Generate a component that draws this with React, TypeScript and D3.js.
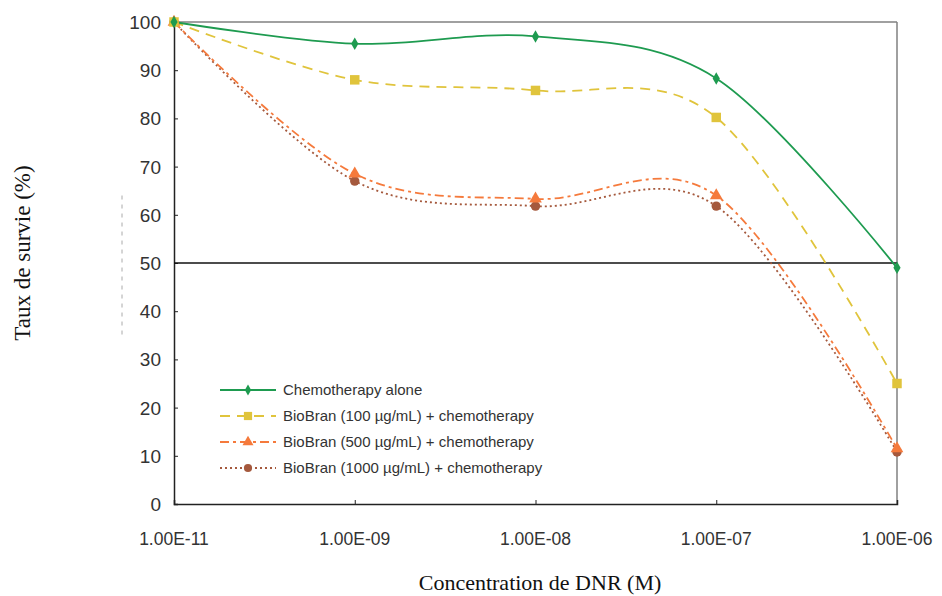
import { useRef, useEffect } from 'react';
import * as d3 from 'd3';

// categories (log-spaced concentrations, plotted evenly)
const concentrations = ['1.00E-11', '1.00E-09', '1.00E-08', '1.00E-07', '1.00E-06'];
const yTicks = [0, 10, 20, 30, 40, 50, 60, 70, 80, 90, 100];

const chemoAlone = [100, 95.5, 97, 88.3, 49];
const bb100 = [100, 88, 85.8, 80.2, 25];
const bb500 = [100, 68.5, 63.3, 64, 11.5];
const bb1000 = [100, 67, 61.8, 61.8, 10.8];

const seriesNames = [
  'Chemotherapy alone',
  'BioBran (100 µg/mL) + chemotherapy',
  'BioBran (500 µg/mL) + chemotherapy',
  'BioBran (1000 µg/mL) + chemotherapy',
];

const W = 942;
const H = 596;

const App = () => {
  const svgRef = useRef<SVGSVGElement | null>(null);

  useEffect(() => {
    const svg = d3.select(svgRef.current);
    svg.selectAll('*').remove();

    const margin = { top: 22, right: 45, bottom: 92, left: 174 };
    const x0 = margin.left;
    const x1 = W - margin.right;
    const y0 = H - margin.bottom;
    const y1 = margin.top;

    const x = d3.scalePoint<string>().domain(concentrations).range([x0, x1]);
    const y = d3.scaleLinear().domain([0, 100]).range([y0, y1]);

    const series = [
      { name: seriesNames[0], values: chemoAlone, color: '#1e9b50', dash: null, marker: d3.symbolDiamond, size: 45 },
      { name: seriesNames[1], values: bb100, color: '#e0c43c', dash: '10,7', marker: d3.symbolSquare, size: 90 },
      { name: seriesNames[2], values: bb500, color: '#f57a3c', dash: '9,4,3,4', marker: d3.symbolTriangle, size: 70 },
      { name: seriesNames[3], values: bb1000, color: '#a5593d', dash: '2,3', marker: d3.symbolCircle, size: 70 },
    ];

    // frame (top + right in gray)
    svg.append('line')
      .attr('x1', x0).attr('x2', x1).attr('y1', y1).attr('y2', y1)
      .attr('stroke', '#808080').attr('stroke-width', 1.5);
    svg.append('line')
      .attr('x1', x1).attr('x2', x1).attr('y1', y1).attr('y2', y0)
      .attr('stroke', '#808080').attr('stroke-width', 1.5);

    // y axis
    const yAxis = svg.append('g')
      .attr('transform', `translate(${x0},0)`)
      .call(d3.axisRight(y).tickValues(yTicks).tickSize(4).tickFormat(() => ''));
    yAxis.select('.domain').attr('stroke', '#222').attr('stroke-width', 1.5);
    yAxis.selectAll('.tick line').attr('stroke', '#222');

    svg.append('g')
      .selectAll('text')
      .data(yTicks)
      .enter()
      .append('text')
      .attr('x', x0 - 13)
      .attr('y', d => y(d) + 7)
      .attr('text-anchor', 'end')
      .attr('font-family', 'Liberation Sans, Arial, sans-serif')
      .attr('font-size', '19px')
      .attr('fill', '#333')
      .text(d => d);

    // x axis
    const xAxis = svg.append('g')
      .attr('transform', `translate(0,${y0})`)
      .call(d3.axisTop(x).tickSize(4).tickFormat(() => ''));
    xAxis.select('.domain').attr('stroke', '#222').attr('stroke-width', 1.5);
    xAxis.selectAll('.tick line').attr('stroke', '#222');

    svg.append('g')
      .selectAll('text')
      .data(concentrations)
      .enter()
      .append('text')
      .attr('x', d => x(d)!)
      .attr('y', y0 + 41)
      .attr('text-anchor', 'middle')
      .attr('font-family', 'Liberation Sans, Arial, sans-serif')
      .attr('font-size', '17.5px')
      .attr('fill', '#333')
      .text(d => d);

    // 50% reference line
    svg.append('line')
      .attr('x1', x0).attr('x2', x1).attr('y1', y(50)).attr('y2', y(50))
      .attr('stroke', '#111').attr('stroke-width', 1.5);

    // faint scan artifact near the y axis
    svg.append('line')
      .attr('x1', 122).attr('x2', 122).attr('y1', y(64)).attr('y2', y(35))
      .attr('stroke', '#aaa').attr('stroke-width', 1).attr('stroke-dasharray', '4,5');

    const line = d3.line<number>()
      .x((_, i) => x(concentrations[i])!)
      .y(d => y(d))
      .curve(d3.curveCardinal.tension(0));

    // draw back to front
    [...series].reverse().forEach(s => {
      svg.append('path')
        .datum(s.values)
        .attr('fill', 'none')
        .attr('stroke', s.color)
        .attr('stroke-width', 1.8)
        .attr('stroke-dasharray', s.dash)
        .attr('d', line);
    });

    [...series].reverse().forEach(s => {
      svg.append('g')
        .selectAll('path')
        .data(s.values)
        .enter()
        .append('path')
        .attr('transform', (d, i) => `translate(${x(concentrations[i])},${y(d)})`)
        .attr('d', d3.symbol().type(s.marker).size(s.size))
        .attr('fill', s.color);
    });

    // legend
    const legend = svg.append('g').attr('transform', 'translate(220,390)');
    series.forEach((s, i) => {
      const g = legend.append('g').attr('transform', `translate(0,${i * 26})`);
      g.append('line')
        .attr('x1', 0).attr('x2', 56).attr('y1', 0).attr('y2', 0)
        .attr('stroke', s.color)
        .attr('stroke-width', 1.8)
        .attr('stroke-dasharray', s.dash);
      g.append('path')
        .attr('transform', 'translate(28,0)')
        .attr('d', d3.symbol().type(s.marker).size(s.size * 0.75))
        .attr('fill', s.color);
      g.append('text')
        .attr('x', 63)
        .attr('y', 5)
        .attr('font-family', 'Liberation Sans, Arial, sans-serif')
        .attr('font-size', '15px')
        .attr('fill', '#333')
        .text(s.name);
    });

    // axis titles
    svg.append('text')
      .attr('x', 540)
      .attr('y', 590)
      .attr('text-anchor', 'middle')
      .attr('font-family', 'Liberation Serif, Times New Roman, serif')
      .attr('font-size', '22px')
      .attr('fill', '#111')
      .text('Concentration de DNR (M)');

    svg.append('text')
      .attr('transform', 'rotate(-90)')
      .attr('x', -253)
      .attr('y', 30)
      .attr('text-anchor', 'middle')
      .attr('font-family', 'Liberation Serif, Times New Roman, serif')
      .attr('font-size', '23px')
      .attr('fill', '#111')
      .text('Taux de survie (%)');
  }, []);

  return (
    <svg
      ref={svgRef}
      width={W}
      height={H}
      style={{ position: 'absolute', left: 0, top: 0, background: '#fff' }}
    />
  );
};

export default App;
